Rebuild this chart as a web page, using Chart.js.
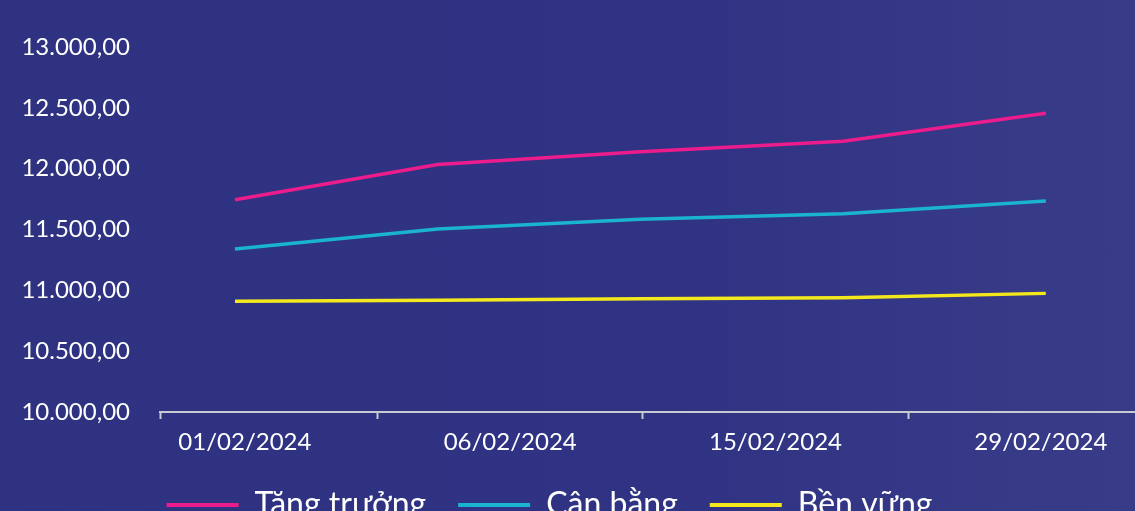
<!DOCTYPE html>
<html>
<head>
<meta charset="utf-8">
<script src="https://cdn.jsdelivr.net/npm/chart.js@4/dist/chart.umd.min.js"></script>
<style>
  html, body { margin: 0; padding: 0; overflow: hidden; }
  body { width: 1135px; height: 511px; background: linear-gradient(90deg, #2f3281 0%, #303383 60%, #383c88 100%); }
  #wrap { position: relative; width: 1135px; height: 531px; }
</style>
</head>
<body>
<div id="wrap"><canvas id="fundChart"></canvas></div>
<script>
// tick labels on the x axis
var dateLabels = ['01/02/2024', '06/02/2024', '15/02/2024', '29/02/2024'];
// NAV values, one per point
var tangTruong = [11745, 12035, 12140, 12225, 12455];
var canBang = [11340, 11505, 11585, 11630, 11735];
var benVung = [10910, 10918, 10930, 10940, 10975];
var seriesNames = ['Tăng trưởng', 'Cân bằng', 'Bền vững'];
var seriesColors = ['#ec1c8c', '#1ab4d0', '#f4e81c'];

function toPoints(arr) {
    return arr.map(function (v, i) { return { x: i, y: v }; });
}

function fmtVN(v) {
    var s = Math.round(v).toString().replace(/\B(?=(\d{3})+(?!\d))/g, '.');
    return s + ',00';
}

// legend in the original sits a bit left of centre
var legendShift = {
    id: 'legendShift',
    afterLayout: function (chart) {
        if (chart.legend) chart.legend.left -= 56;
    }
};

document.addEventListener('DOMContentLoaded', function () {
    var ctx = document.getElementById('fundChart').getContext('2d');
    var allSeries = [tangTruong, canBang, benVung];
    var datasets = allSeries.map(function (arr, i) {
        return {
            label: seriesNames[i],
            data: toPoints(arr),
            borderColor: seriesColors[i],
            backgroundColor: seriesColors[i],
            borderWidth: 3.5,
            pointRadius: 0,
            tension: 0,
            xAxisID: 'x',
            yAxisID: 'y'
        };
    });

    new Chart(ctx, {
        type: 'line',
        data: { datasets: datasets },
        plugins: [legendShift],
        options: {
            responsive: true,
            maintainAspectRatio: false,
            animation: false,
            layout: { padding: { top: 47, left: 20, right: 0, bottom: 0 } },
            plugins: {
                tooltip: { enabled: false },
                legend: {
                    position: 'bottom',
                    labels: {
                        color: '#ffffff',
                        font: { family: 'Lato', size: 32 },
                        boxWidth: 72,
                        boxHeight: 4,
                        padding: 32,
                        generateLabels: function (chart) {
                            return chart.data.datasets.map(function (ds, i) {
                                return {
                                    text: ds.label,
                                    fillStyle: ds.borderColor,
                                    strokeStyle: ds.borderColor,
                                    lineWidth: 0,
                                    fontColor: '#ffffff',
                                    datasetIndex: i
                                };
                            });
                        }
                    }
                }
            },
            scales: {
                x: {
                    type: 'linear',
                    display: false,
                    min: -0.37,
                    max: 4.44
                },
                x2: {
                    type: 'linear',
                    position: 'bottom',
                    min: -0.32,
                    max: 3.355,
                    afterBuildTicks: function (axis) {
                        var vals = [axis.min];
                        dateLabels.forEach(function (d, i) {
                            vals.push(i);
                            if (i < dateLabels.length - 1) vals.push(i + 0.5);
                        });
                        axis.ticks = vals.map(function (v) { return { value: v }; });
                    },
                    afterFit: function (axis) { axis.height = 45; },
                    border: { display: true, color: '#c9c9d2', width: 2 },
                    grid: {
                        drawOnChartArea: false,
                        drawTicks: true,
                        tickLength: 7,
                        tickWidth: 2,
                        tickColor: function (c) {
                            return (c.tick && Number.isInteger(c.tick.value)) ? 'rgba(0,0,0,0)' : '#c9c9d2';
                        }
                    },
                    ticks: {
                        autoSkip: false,
                        maxRotation: 0,
                        padding: 9,
                        color: '#ffffff',
                        font: { family: 'Lato', size: 24 },
                        callback: function (value) {
                            return Number.isInteger(value) ? dateLabels[value] : '';
                        }
                    }
                },
                y: {
                    min: 10000,
                    max: 13000,
                    border: { display: false },
                    grid: { display: false, drawTicks: false },
                    afterFit: function (axis) { axis.width = 140; },
                    ticks: {
                        stepSize: 500,
                        padding: 30,
                        color: '#ffffff',
                        font: { family: 'Lato', size: 24 },
                        callback: function (value) { return fmtVN(value); }
                    }
                }
            }
        }
    });
});
</script>
</body>
</html>
